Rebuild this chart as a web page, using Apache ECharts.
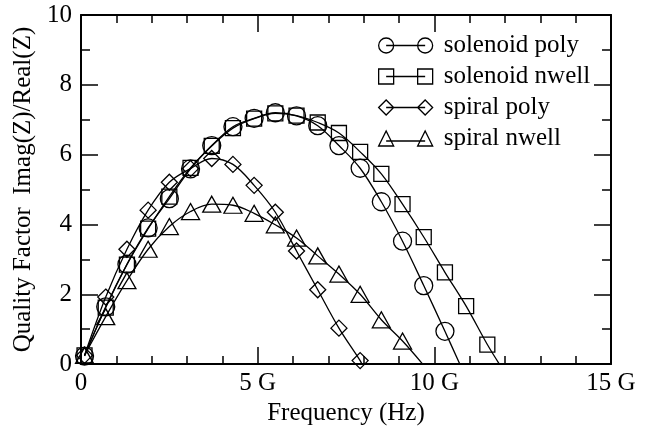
<!DOCTYPE html>
<html>
<head>
<meta charset="utf-8">
<script src="https://cdn.jsdelivr.net/npm/echarts@6/dist/echarts.min.js"></script>
<style>
  html, body { margin: 0; padding: 0; background: #fff; }
  #chart { width: 646px; height: 431px; }
</style>
</head>
<body>
<div id="chart"></div>
<script>
// Measurement frequencies (GHz)
const freqGHz = [0.1, 0.7, 1.3, 1.9, 2.5, 3.1, 3.7, 4.3, 4.9, 5.5, 6.1, 6.7, 7.3, 7.9, 8.5, 9.1, 9.7, 10.3, 10.9, 11.5];

// Quality factor Imag(Z)/Real(Z) per inductor
const solenoidPoly  = [0.23, 1.64, 2.86, 3.90, 4.74, 5.59, 6.26, 6.80, 7.04, 7.20, 7.11, 6.83, 6.26, 5.61, 4.65, 3.52, 2.25, 0.94];
const solenoidNwell = [0.25, 1.62, 2.85, 3.88, 4.80, 5.62, 6.25, 6.76, 7.03, 7.18, 7.12, 6.92, 6.62, 6.08, 5.45, 4.58, 3.64, 2.63, 1.66, 0.56];
const spiralPoly    = [0.25, 1.92, 3.29, 4.41, 5.21, 5.60, 5.89, 5.72, 5.12, 4.35, 3.24, 2.13, 1.03, 0.10];
const spiralNwell   = [0.25, 1.36, 2.39, 3.29, 3.94, 4.37, 4.58, 4.55, 4.32, 3.99, 3.61, 3.10, 2.58, 2.00, 1.27, 0.66];

// Frequency where each fitted curve reaches Q = 0 (GHz)
const zeroSolenoidPoly  = 10.72;
const zeroSolenoidNwell = 11.84;
const zeroSpiralPoly    = 7.95;
const zeroSpiralNwell   = 9.67;

const seriesNames = ['solenoid poly', 'solenoid nwell', 'spiral poly', 'spiral nwell'];

// Axis ranges and tick spacing
const xRange = [0, 15], xStep = 5;
const yRange = [0, 10], yStep = 2;

const FONT = 'Liberation Serif';
const FONT_SIZE = 25;
const INK = '#000';

function curve(values, zeroAt) {
  const pts = values.map((v, i) => [freqGHz[i], v]);
  pts.push({ value: [zeroAt, 0], symbol: 'none' });
  return pts;
}

function lineSeries(name, values, zeroAt, symbol, size) {
  return {
    name: name,
    type: 'line',
    data: curve(values, zeroAt),
    smooth: 0.35,
    symbol: symbol,
    symbolSize: size,
    showAllSymbol: true,
    lineStyle: { color: INK, width: 1.3 },
    itemStyle: { color: 'transparent', borderColor: INK, borderWidth: 1.3 },
    emphasis: { disabled: true },
    animation: false
  };
}

// Legend icons: marker, connecting line, marker
const iconCircle = 'path://M0 7.5A7.5 7.5 0 1 0 15 7.5A7.5 7.5 0 1 0 0 7.5ZM7.5 7.5L46.5 7.5M39 7.5A7.5 7.5 0 1 0 54 7.5A7.5 7.5 0 1 0 39 7.5Z';
const iconSquare = 'path://M0 0L15 0L15 15L0 15ZM7.5 7.5L46.5 7.5M39 0L54 0L54 15L39 15Z';
const iconDiamond = 'path://M0 7.5L7.5 0L15 7.5L7.5 15ZM7.5 7.5L46.5 7.5M39 7.5L46.5 0L54 7.5L46.5 15Z';
const iconTriangle = 'path://M0 15L7.5 0L15 15ZM7.5 10L46.5 10M39 15L46.5 0L54 15Z';

function axisBase(extra) {
  return Object.assign({
    type: 'value',
    axisLine: { show: true, onZero: false, lineStyle: { color: INK, width: 2 } },
    axisTick: { show: true, inside: true, length: 17, lineStyle: { color: INK, width: 1.5 } },
    splitLine: { show: false },
    minorSplitLine: { show: false }
  }, extra);
}

const chart = echarts.init(document.getElementById('chart'), null, { renderer: 'canvas' });

chart.setOption({
  backgroundColor: '#fff',
  animation: false,
  grid: { left: 81, right: 35, top: 15, bottom: 61, containLabel: false },
  legend: {
    orient: 'vertical',
    left: 373,
    top: 28,
    itemWidth: 54,
    itemHeight: 15,
    itemGap: 6,
    selectedMode: false,
    itemStyle: { color: 'transparent', borderColor: INK, borderWidth: 1.3 },
    textStyle: { fontFamily: FONT, fontSize: FONT_SIZE, color: INK, lineHeight: 25, padding: [0, 0, 0, 6] },
    data: [
      { name: seriesNames[0], icon: iconCircle },
      { name: seriesNames[1], icon: iconSquare },
      { name: seriesNames[2], icon: iconDiamond },
      { name: seriesNames[3], icon: iconTriangle }
    ]
  },
  xAxis: [
    axisBase({
      position: 'bottom',
      min: xRange[0], max: xRange[1], interval: xStep,
      minorTick: { show: true, splitNumber: 5, length: 8, lineStyle: { color: INK, width: 1.5 } },
      axisLabel: {
        fontFamily: FONT, fontSize: FONT_SIZE, color: INK, margin: 7,
        formatter: v => (v === 0 ? '0' : v + ' G')
      },
      name: 'Frequency (Hz)',
      nameLocation: 'middle',
      nameGap: 29,
      nameTextStyle: { fontFamily: FONT, fontSize: FONT_SIZE, color: INK }
    }),
    axisBase({
      position: 'top',
      min: xRange[0], max: xRange[1], interval: xStep,
      minorTick: { show: true, splitNumber: 5, length: 8, lineStyle: { color: INK, width: 1.5 } },
      axisLabel: { show: false }
    })
  ],
  yAxis: [
    axisBase({
      position: 'left',
      min: yRange[0], max: yRange[1], interval: yStep,
      minorTick: { show: true, splitNumber: 2, length: 9, lineStyle: { color: INK, width: 1.5 } },
      axisLabel: { fontFamily: FONT, fontSize: FONT_SIZE, color: INK, margin: 9 },
      name: 'Quality Factor  Imag(Z)/Real(Z)',
      nameLocation: 'middle',
      nameGap: 40,
      nameTextStyle: { fontFamily: FONT, fontSize: FONT_SIZE, color: INK }
    }),
    axisBase({
      position: 'right',
      min: yRange[0], max: yRange[1], interval: yStep,
      minorTick: { show: true, splitNumber: 2, length: 9, lineStyle: { color: INK, width: 1.5 } },
      axisLabel: { show: false }
    })
  ],
  series: [
    lineSeries(seriesNames[0], solenoidPoly, zeroSolenoidPoly, 'circle', 18),
    lineSeries(seriesNames[1], solenoidNwell, zeroSolenoidNwell, 'rect', 15),
    lineSeries(seriesNames[2], spiralPoly, zeroSpiralPoly, 'diamond', 16),
    lineSeries(seriesNames[3], spiralNwell, zeroSpiralNwell, 'triangle', [18, 16])
  ]
});
</script>
</body>
</html>
